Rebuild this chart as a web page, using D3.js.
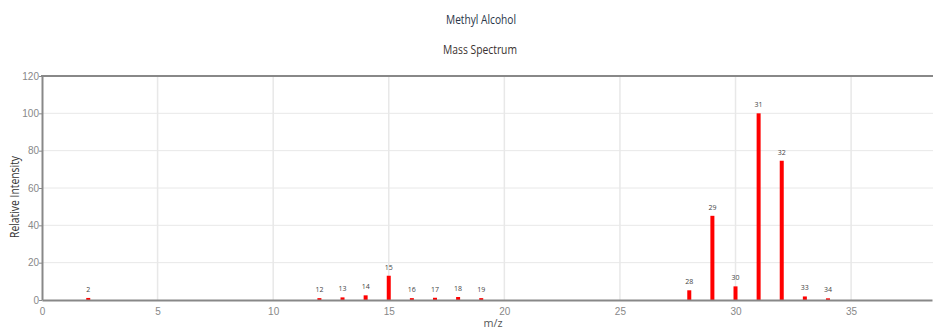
<!DOCTYPE html>
<html>
<head>
<meta charset="utf-8">
<script src="https://cdn.jsdelivr.net/npm/d3@7"></script>
<style>
  html, body { margin: 0; padding: 0; background: #fff; }
  svg { display: block; font-family: "Open Sans", "Noto Sans", sans-serif; }
</style>
</head>
<body>
<svg id="chart" width="933" height="331"></svg>
<script>
// Methyl alcohol electron-ionisation mass spectrum
const mz        = [2, 12, 13, 14, 15, 16, 17, 18, 19, 28, 29, 30, 31, 32, 33, 34];
const intensity = [1.1, 1.0, 1.4, 2.5, 13.0, 1.0, 1.2, 1.6, 1.0, 5.2, 45.1, 7.3, 100, 74.6, 1.9, 0.9];
const xTicks = [0, 5, 10, 15, 20, 25, 30, 35];
const yTicks = [0, 20, 40, 60, 80, 100, 120];

const svg = d3.select("#chart");
const margin = { left: 42, right: 1, top: 76, bottom: 31 };
const W = 933, H = 331;

const x = d3.scaleLinear().domain([0, 38.5]).range([margin.left, W - margin.right]);
const y = d3.scaleLinear().domain([0, 120]).range([H - margin.bottom, margin.top]);

// condensed label helper: fixed advance width for the heading texts
function label(sel, len) {
  return sel.attr("textLength", len).attr("lengthAdjust", "spacingAndGlyphs");
}

// titles
label(svg.append("text").attr("x", 481).attr("y", 24).attr("text-anchor", "middle")
  .attr("font-size", 12.5).attr("fill", "#2a3548").text("Methyl Alcohol"), 70);
label(svg.append("text").attr("x", 480).attr("y", 54).attr("text-anchor", "middle")
  .attr("font-size", 12.5).attr("fill", "#3a3230").text("Mass Spectrum"), 74);

// grid
svg.append("g").selectAll("line").data(xTicks.filter(d => d > 0)).join("line")
  .attr("x1", d => x(d)).attr("x2", d => x(d))
  .attr("y1", y(120)).attr("y2", y(0))
  .attr("stroke", "#e8e8e8").attr("stroke-width", 1.5);
svg.append("g").selectAll("line").data(yTicks.filter(d => d > 0 && d < 120)).join("line")
  .attr("x1", x(0)).attr("x2", W)
  .attr("y1", d => y(d)).attr("y2", d => y(d))
  .attr("stroke", "#e8e8e8").attr("stroke-width", 1);

// peaks (drawn under the axis line)
const data = mz.map((m, i) => ({ m, v: intensity[i] }));
const barW = 4;
svg.append("g").selectAll("rect").data(data).join("rect")
  .attr("x", d => x(d.m) - barW / 2).attr("width", barW)
  .attr("y", d => y(d.v)).attr("height", d => y(0) - y(d.v))
  .attr("fill", "#ff0000");

svg.append("g").selectAll("text").data(data).join("text")
  .attr("x", d => x(d.m)).attr("y", d => y(d.v) - 6)
  .attr("text-anchor", "middle").attr("font-size", 7).attr("fill", "#444")
  .text(d => d.m);

// y axis
const yAxis = svg.append("g").attr("transform", `translate(${x(0)},0)`)
  .call(d3.axisLeft(y).tickValues(yTicks).tickSize(3).tickSizeOuter(0));
yAxis.select(".domain").attr("stroke", "#888").attr("stroke-width", 2);
yAxis.selectAll(".tick line").attr("stroke", "#888");
yAxis.selectAll(".tick text").attr("fill", "#888").attr("font-size", 10)
  .attr("font-family", null).attr("x", -3);

// x axis
const xAxis = svg.append("g").attr("transform", `translate(0,${y(0)})`)
  .call(d3.axisBottom(x).tickValues(xTicks).tickSize(0).tickSizeOuter(0));
xAxis.select(".domain").attr("stroke", "#888").attr("stroke-width", 2);
xAxis.selectAll(".tick text").attr("fill", "#888").attr("font-size", 10)
  .attr("font-family", null).attr("dy", "1.2em");

// top frame line
svg.append("line").attr("x1", x(0) - 1).attr("x2", W).attr("y1", y(120)).attr("y2", y(120))
  .attr("stroke", "#888").attr("stroke-width", 2);

// axis titles
label(svg.append("text").attr("transform", `translate(19,197) rotate(-90)`)
  .attr("text-anchor", "middle").attr("font-size", 12).attr("fill", "#333")
  .text("Relative Intensity"), 82);
label(svg.append("text").attr("x", 493).attr("y", 327).attr("text-anchor", "middle")
  .attr("font-size", 11.5).attr("fill", "#555").text("m/z"), 19);
</script>
</body>
</html>
